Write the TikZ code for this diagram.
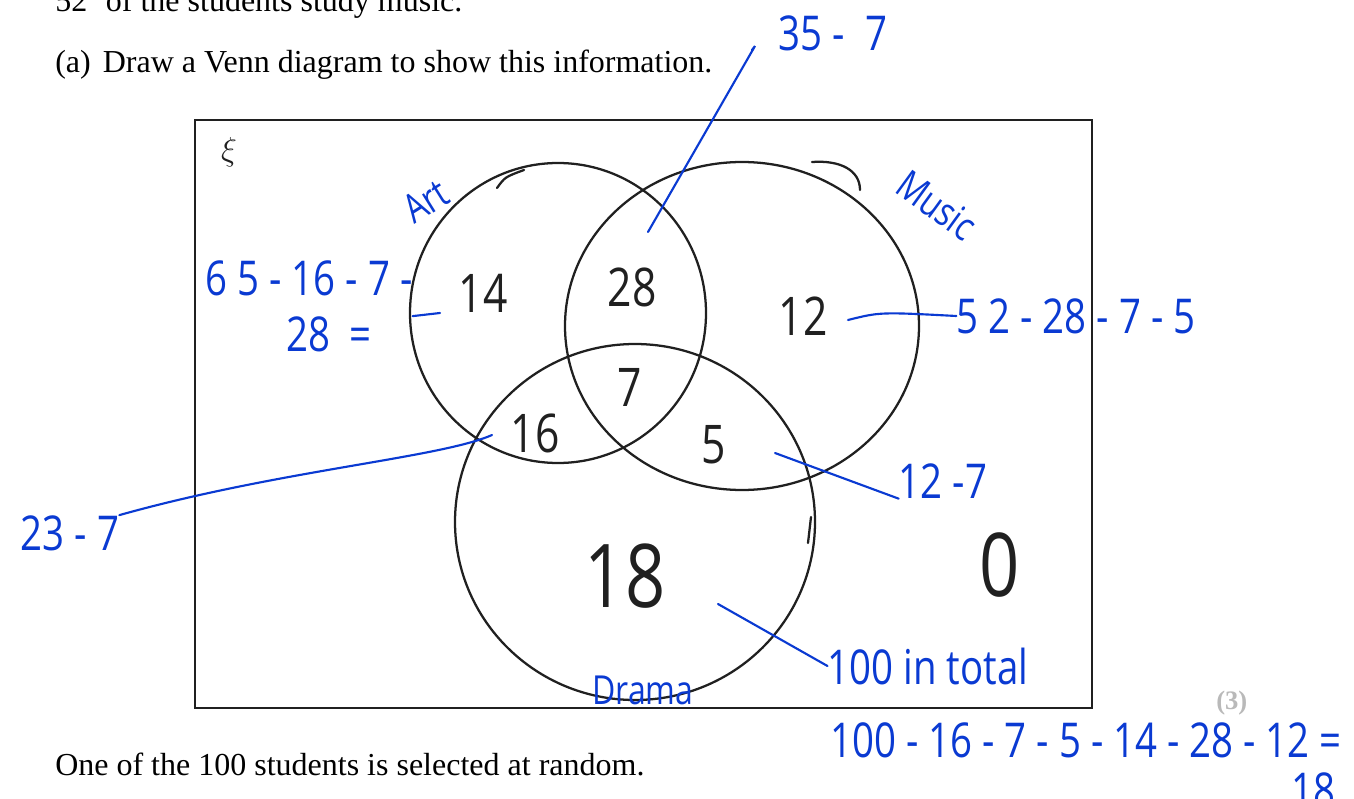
\documentclass[tikz,border=0pt]{standalone}
\usepackage{fontspec}
\setmainfont{Liberation Serif}
\newfontfamily\hand[FakeStretch=0.8]{Open Sans}
\usetikzlibrary{positioning}
\definecolor{ink}{HTML}{0A3AD2}
\definecolor{pencil}{HTML}{202020}

\begin{document}
\begin{tikzpicture}[
    x=0.75pt, y=-0.75pt,
    print/.style={font=\fontsize{24}{28}\selectfont, anchor=base west, inner sep=0pt},
    count/.style={font=\hand\fontsize{40}{44}\selectfont, text=pencil, inner sep=0pt},
    big/.style={font=\hand\fontsize{66}{70}\selectfont, text=pencil, inner sep=0pt},
    calc/.style={font=\hand\fontsize{36}{40}\selectfont, text=ink, inner sep=0pt},
    tag/.style={font=\hand\fontsize{30}{32}\selectfont, text=ink, inner sep=0pt},
    set/.style={draw=pencil, line width=1.7pt, line cap=round},
    lead/.style={draw=ink, line width=1.6pt, line cap=round}
]
\useasboundingbox (0,0) rectangle (1354,799);

% question text
\node[print] (given) at (55,12) {52\hspace{14pt}of the students study music.};
\node[print] (parta) at (55,73) {(a)\hspace{9pt}Draw a Venn diagram to show this information.};
\node[print] (pick) at (55,775) {One of the 100 students is selected at random.};
\node[print, font=\bfseries\fontsize{20}{24}\selectfont, text=gray!55] (marks) at (1216,709) {(3)};

% universal set and the three sets
\draw[pencil, line width=1.3pt] (195,120) rectangle (1092,708);
\node[font=\fontsize{26}{28}\selectfont, text=pencil] (xi) at (229,152) {$\xi$};

\draw[set] (558,313) ellipse [x radius=148, y radius=150];
\draw[set] (742,326) ellipse [x radius=177, y radius=164];
\draw[set] (635,522) ellipse [x radius=180, y radius=178];
\draw[set] (497,188) .. controls (505,177) .. (524,170);
\draw[set] (812,162) .. controls (840,160) and (860,170) .. (860,190);
\draw[set] (811,517) -- (808,543);

% counts
\node[count] (onlyArt) at (483,293) {14};
\node[count] (artMusic) at (632,287) {28};
\node[count] (onlyMusic) at (803,316) {12};
\node[count] (allThree) at (630,387) {7};
\node[count] (artDrama) at (535,433) {16};
\node[count] (musicDrama) at (714,445) {5};
\node[big] (onlyDrama) at (625,576) {18};
\node[big] (none) at (1000,565) {0};

% set names
\node[tag, rotate=32] (art) at (426,201) {Art};
\node[tag, rotate=-36] (music) at (937,205) {Music};
\node[tag] (drama) at (643,690) {Drama};

% working
\node[calc] (calcAM) at (833,33) {35 -\ \ 7};
\node[calc] (calcA) at (309,278) {6 5 - 16 - 7 -};
\node[calc] (calcA2) at (329,334) {28\ \ =};
\node[calc] (calcM) at (1076,316) {5 2 - 28 - 7 - 5};
\node[calc] (calcAD) at (70,533) {23 - 7};
\node[calc] (calcMD) at (943,481) {12 -7};
\node[calc] (total) at (928,666) {100 in total};
\node[calc] (calcD) at (1086,740) {100 - 16 - 7 - 5 - 14 - 28 - 12 =};
\node[calc] (answer) at (1313,790) {18};

\coordinate (amTip) at (648,232);
\coordinate (aTip) at (440,313);
\coordinate (mTip) at (848,320);
\coordinate (adTip) at (492,435);
\coordinate (mdTip) at (775,453);
\coordinate (tTip) at (718,604);

\draw[lead] (amTip) -- (755,46) -- (752,50);
\draw[lead] (aTip) -- (calcA2.north east -| calcA.east);
\draw[lead] (mTip) .. controls (880,312) .. (calcM.west);
\draw[lead] (adTip) .. controls (440,458) and (280,470) .. (calcAD.north east);
\draw[lead] (mdTip) -- (calcMD.south west);
\draw[lead] (tTip) -- (total.west);

\end{tikzpicture}
\end{document}
